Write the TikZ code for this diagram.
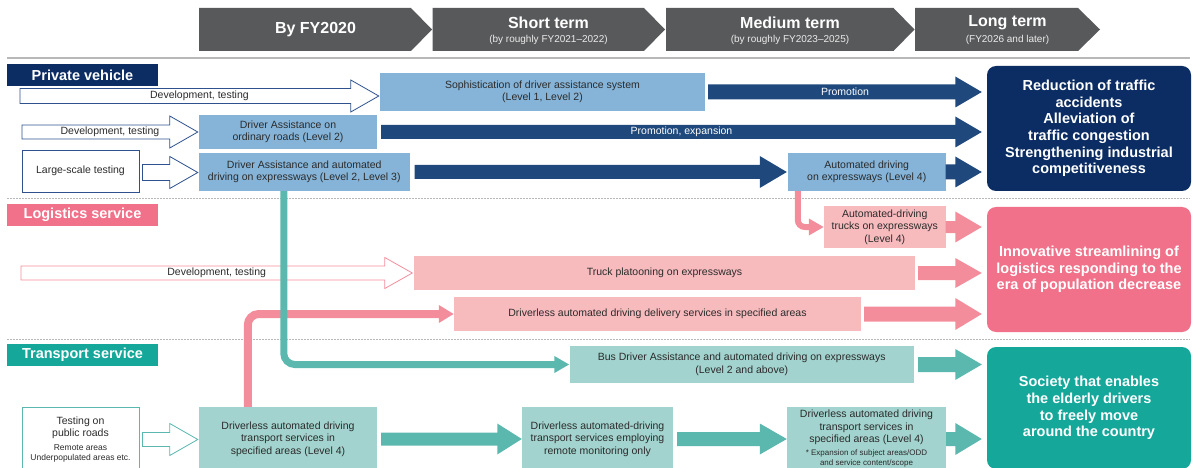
\documentclass[tikz,border=0pt]{standalone}
\usepackage{fontspec}
\setmainfont{Liberation Sans}
\usetikzlibrary{arrows.meta,calc}
\definecolor{cNavy}{HTML}{0B2D63}
\definecolor{cNavyA}{HTML}{1F497D}
\definecolor{cNavyO}{HTML}{2F528F}
\definecolor{cBlue}{HTML}{86B4D8}
\definecolor{cPink}{HTML}{F07189}
\definecolor{cPinkA}{HTML}{F48D9B}
\definecolor{cPinkL}{HTML}{F7BBBE}
\definecolor{cTeal}{HTML}{14A79A}
\definecolor{cTealA}{HTML}{5BB8AF}
\definecolor{cTealL}{HTML}{A2D3CE}
\definecolor{cHead}{HTML}{58595B}
\definecolor{cSep}{HTML}{B8B8B8}
\definecolor{cTxt}{HTML}{2B2B2B}
\tikzset{
  box/.style={inner sep=0pt, align=center, text=cTxt, font=\fontsize{10.5}{12.5}\selectfont},
  bluebox/.style={box, fill=cBlue},
  pinkbox/.style={box, fill=cPinkL},
  tealbox/.style={box, fill=cTealL},
  outbox/.style={box, draw=#1, line width=0.8pt, fill=white},
  resbox/.style={inner sep=0pt, align=center, text=white, rounded corners=9pt, font=\bfseries\fontsize{14.5}{16.7}\selectfont},
  lbl/.style={inner sep=0pt, text=white, font=\bfseries\fontsize{14.5}{16}\selectfont},
  hdr/.style={text=white, font=\bfseries\fontsize{16}{18}\selectfont, inner sep=0pt},
  hsub/.style={text=white!92!black, font=\fontsize{10}{12}\selectfont, inner sep=0pt},
  alabel/.style={font=\fontsize{10.5}{12}\selectfont, inner sep=0pt},
  solidarr/.style={fill=#1, text=white},
  openarr/.style={draw=#1, fill=white, line width=0.8pt, text=cTxt},
  conn/.style={draw=#1},
  sepsolid/.style={draw=cSep, line width=1.2pt},
  sepdash/.style={draw=cSep, line width=0.8pt, dash pattern=on 2pt off 1pt},
}
% box: style, name, x1, y1, x2, y2, text
\newcommand\mybox[7]{\node[#1, minimum width=#5-#3, minimum height=#6-#4] (#2) at ({(#3+#5)/2},{-(#4+#6)/2}) {#7};}
% block arrow: style, start, tip, shaft half, head half, head length, label
\newcommand\fatarrow[7][]{%
  \path[#1] let \p1=#2, \p2=#3 in
    (\x1,\y1+#4) -- (\x2-#6,\y1+#4) -- (\x2-#6,\y1+#5) -- (\x2,\y1)
    -- (\x2-#6,\y1-#5) -- (\x2-#6,\y1-#4) -- (\x1,\y1-#4) -- cycle
    ({(\x1+\x2)/2},\y1) node[alabel] {#7};}
\begin{document}
\begin{tikzpicture}[x=1pt,y=1pt]
\useasboundingbox (0,0) rectangle (1195,-468);
\clip (0,0) rectangle (1195,-468);
% header chevrons
\fill[cHead] (199,-8) -- (411,-8) -- (432,-29.5) -- (411,-51) -- (199,-51) -- cycle;
\fill[cHead] (432.5,-8) -- (644,-8) -- (665,-29.5) -- (644,-51) -- (432.5,-51) -- cycle;
\fill[cHead] (666,-8) -- (893.5,-8) -- (914.5,-29.5) -- (893.5,-51) -- (666,-51) -- cycle;
\fill[cHead] (915,-8) -- (1078,-8) -- (1100,-29.5) -- (1078,-51) -- (915,-51) -- cycle;
\node[hdr] (h1) at (315.5,-29.5) {By FY2020};
\node[hdr] (h2) at (548.5,-22.5) {Short term};
\node[hsub] (h2s) at (548.5,-39.5) {(by roughly FY2021–2022)};
\node[hdr] (h3) at (790,-22.5) {Medium term};
\node[hsub] (h3s) at (790,-39.5) {(by roughly FY2023–2025)};
\node[hdr] (h4) at (1007.5,-22.5) {Long term};
\node[hsub] (h4s) at (1007.5,-39.5) {(FY2026 and later)};
% separators
\draw[sepsolid] (7,-58) -- (1190,-58);
\draw[sepdash] (7,-198.5) -- (1190,-198.5);
\draw[sepdash] (7,-339) -- (1190,-339);
% section labels
\mybox{lbl, fill=cNavy}{lpv}{7}{64}{158}{86}{Private vehicle}
\mybox{lbl, fill=cPink}{lls}{7}{204}{158}{226}{Logistics service}
\mybox{lbl, fill=cTeal}{lts}{7}{344}{158}{366}{Transport service}
% private vehicle boxes
\mybox{bluebox}{soph}{380}{73}{705}{111}{Sophistication of driver assistance system\\(Level 1, Level 2)}
\mybox{bluebox}{da2}{199}{115}{377}{149}{Driver Assistance on\\ordinary roads (Level 2)}
\mybox{outbox=cNavyO}{lst}{22}{150}{139}{192}{Large-scale testing}
\mybox{bluebox}{da3}{199}{153}{409.5}{191}{Driver Assistance and automated\\driving on expressways (Level 2, Level 3)}
\mybox{bluebox}{al4}{788}{153}{945.5}{191}{Automated driving\\on expressways (Level 4)}
\mybox{resbox, fill=cNavy}{res1}{987}{66}{1191}{191}{Reduction of traffic\\accidents\\Alleviation of\\traffic congestion\\Strengthening industrial\\competitiveness}
% logistics boxes
\mybox{pinkbox}{trk}{824}{206}{945.5}{248}{Automated-driving\\trucks on expressways\\(Level 4)}
\mybox{pinkbox}{plat}{414}{256}{915}{290}{Truck platooning on expressways}
\mybox{pinkbox}{deliv}{454}{297}{861}{331}{Driverless automated driving delivery services in specified areas}
\mybox{resbox, fill=cPink}{res2}{987}{207}{1191}{332}{Innovative streamlining of\\logistics responding to the\\era of population decrease}
% transport boxes
\mybox{tealbox}{bus}{569.5}{346}{914}{383}{Bus Driver Assistance and automated driving on expressways\\(Level 2 and above)}
\mybox{outbox=cTealA}{tpr}{22}{407}{139}{472}{Testing on\\public roads\\[1pt]{\fontsize{8.5}{9.5}\selectfont Remote areas}\\[-2pt]{\fontsize{8.5}{9.5}\selectfont Underpopulated areas etc.}}
\mybox{tealbox}{t1}{199}{407}{377}{471}{Driverless automated driving\\transport services in\\specified areas (Level 4)}
\mybox{tealbox}{t2}{522}{407}{673}{471}{Driverless automated-driving\\transport services employing\\remote monitoring only}
\mybox{tealbox}{t3}{787}{407}{946}{471}{Driverless automated driving\\transport services in\\specified areas (Level 4)\\{\fontsize{8}{9}\selectfont * Expansion of subject areas/ODD}\\[-2pt]{\fontsize{8}{9}\selectfont and service content/scope}}
\mybox{resbox, fill=cTeal}{res3}{987}{347}{1191}{469}{Society that enables\\the elderly drivers\\to freely move\\around the country}
% private vehicle arrows
\coordinate (pv1s) at (20,-96);
\coordinate (pv2s) at (22,-132);
\fatarrow[openarr=cNavyO]{(pv1s)}{([xshift=-1pt]soph.west)}{7.5}{16}{28}{Development, testing}
\fatarrow[solidarr=cNavyA]{([xshift=3pt]soph.east)}{([xshift=-5pt]res1.west)}{7.5}{15.5}{26.5}{Promotion}
\fatarrow[openarr=cNavyO]{(pv2s)}{([xshift=-1pt]da2.west)}{7}{16}{28}{Development, testing}
\fatarrow[solidarr=cNavyA]{([xshift=4pt]da2.east)}{([xshift=-5pt]res1.west)}{7}{15.5}{26.5}{Promotion, expansion}
\fatarrow[openarr=cNavyO]{([xshift=3pt,yshift=-1.5pt]lst.east)}{([xshift=-1pt]da3.west)}{8}{16}{28}{}
\fatarrow[solidarr=cNavyA]{([xshift=5pt]da3.east)}{([xshift=-1pt]al4.west)}{7}{16}{27}{}
\fatarrow[solidarr=cNavyA]{(al4.east)}{([xshift=-5pt]res1.west)}{7.5}{15.5}{26.5}{}
% logistics arrows
\coordinate (lgs) at (21,-273);
\fatarrow[solidarr=cPinkA]{(trk.east)}{([xshift=-5pt]res2.west)}{6}{15.5}{26.5}{}
\fatarrow[openarr=cPinkA]{(lgs)}{([xshift=-1.5pt]plat.west)}{7}{15.5}{27.5}{Development, testing}
\fatarrow[solidarr=cPinkA]{([xshift=3pt]plat.east)}{([xshift=-5pt]res2.west)}{7}{15}{26.5}{}
\fatarrow[solidarr=cPinkA]{([xshift=3pt]deliv.east)}{([xshift=-5pt]res2.west)}{7.5}{16}{26.5}{}
% transport arrows
\fatarrow[solidarr=cTealA]{([xshift=4pt]bus.east)}{([xshift=-5pt]res3.west)}{7.5}{15.5}{26.5}{}
\fatarrow[openarr=cTealA]{([xshift=3pt]tpr.east)}{([xshift=-1pt]t1.west)}{7}{16}{28}{}
\fatarrow[solidarr=cTealA]{([xshift=4pt]t1.east)}{(t2.west)}{6.5}{15.5}{24.5}{}
\fatarrow[solidarr=cTealA]{([xshift=4pt]t2.east)}{(t3.west)}{7}{15.5}{27}{}
\fatarrow[solidarr=cTealA]{(t3.east)}{([xshift=-5pt]res3.west)}{7}{16}{26.5}{}
% bent connectors
\draw[conn=cPinkA, line width=6pt, rounded corners=7pt, -{Triangle[length=15pt,width=16pt]}] ([xshift=10pt]al4.south west) |- (trk.west);
\draw[conn=cPinkA, line width=8pt, rounded corners=11pt, -{Triangle[length=15pt,width=17pt]}] ([xshift=49pt]t1.north west) |- (deliv.west);
\draw[conn=cTealA, line width=7pt, rounded corners=11pt, -{Triangle[length=15pt,width=16pt]}] ([xshift=85pt]da3.south west) |- (bus.west);
\end{tikzpicture}
\end{document}
